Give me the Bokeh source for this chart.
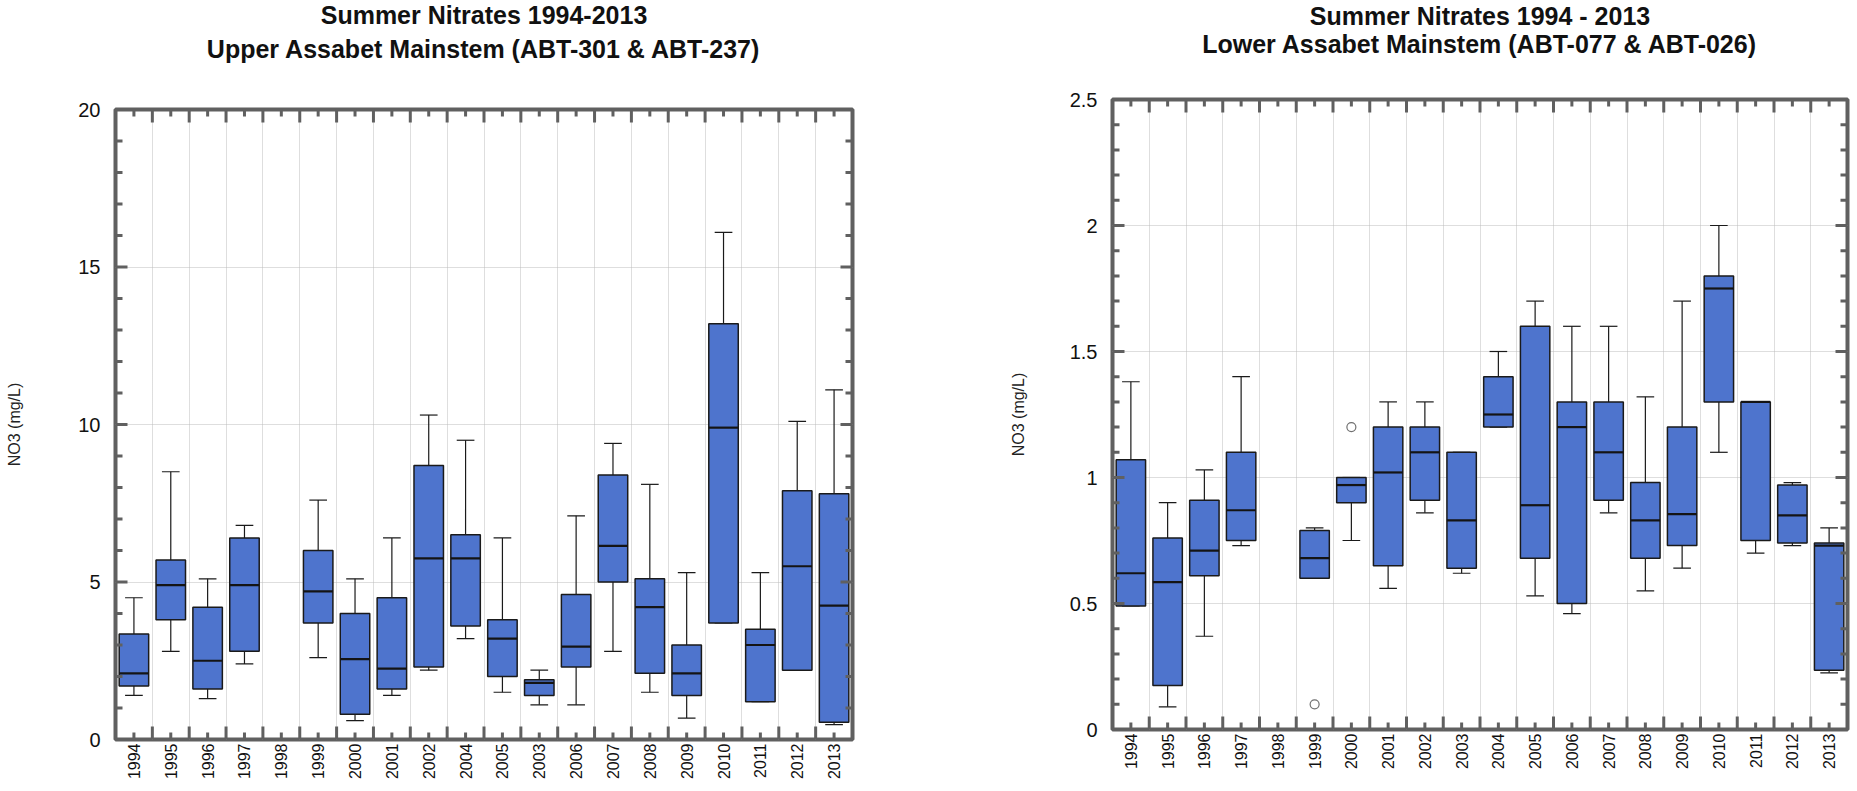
import math
import numpy as np
from bokeh.plotting import figure
from bokeh.layouts import row
from bokeh.models import (FixedTicker, Title, Range1d, LinearAxis,
                          CustomJSTickFormatter, NumeralTickFormatter, ColumnDataSource)
from bokeh.embed import file_html
from bokeh.resources import INLINE

# ---------------- data: Upper Assabet Mainstem ----------------
up_years = ["1994", "1995", "1996", "1997", "1998", "1999", "2000", "2001", "2002", "2004",
            "2005", "2003", "2006", "2007", "2008", "2009", "2010", "2011", "2012", "2013"]
up_high = [4.5, 8.5, 5.1, 6.8, None, 7.6, 5.1, 6.4, 10.3, 9.5, 6.4, 2.2, 7.1, 9.4, 8.1, 5.3, 16.1, 5.3, 10.1, 11.1]
up_q3 = [3.35, 5.7, 4.2, 6.4, None, 6.0, 4.0, 4.5, 8.7, 6.5, 3.8, 1.9, 4.6, 8.4, 5.1, 3.0, 13.2, 3.5, 7.9, 7.8]
up_med = [2.1, 4.9, 2.5, 4.9, None, 4.7, 2.55, 2.25, 5.75, 5.75, 3.2, 1.8, 2.95, 6.15, 4.2, 2.1, 9.9, 3.0, 5.5, 4.25]
up_q1 = [1.7, 3.8, 1.6, 2.8, None, 3.7, 0.8, 1.6, 2.3, 3.6, 2.0, 1.4, 2.3, 5.0, 2.1, 1.4, 3.7, 1.2, 2.2, 0.55]
up_low = [1.4, 2.8, 1.3, 2.4, None, 2.6, 0.6, 1.4, 2.2, 3.2, 1.5, 1.1, 1.1, 2.8, 1.5, 0.68, 3.7, 1.2, 2.2, 0.47]

# ---------------- data: Lower Assabet Mainstem ----------------
low_years = ["1994", "1995", "1996", "1997", "1998", "1999", "2000", "2001", "2002", "2003",
             "2004", "2005", "2006", "2007", "2008", "2009", "2010", "2011", "2012", "2013"]
low_high = [1.38, 0.90, 1.03, 1.40, None, 0.80, 1.00, 1.30, 1.30, 1.10, 1.50, 1.70, 1.60, 1.60, 1.32, 1.70, 2.00, 1.30, 0.98, 0.80]
low_q3 = [1.07, 0.76, 0.91, 1.10, None, 0.79, 1.00, 1.20, 1.20, 1.10, 1.40, 1.60, 1.30, 1.30, 0.98, 1.20, 1.80, 1.30, 0.97, 0.74]
low_med = [0.62, 0.585, 0.71, 0.87, None, 0.68, 0.97, 1.02, 1.10, 0.83, 1.25, 0.89, 1.20, 1.10, 0.83, 0.855, 1.75, 1.30, 0.85, 0.73]
low_q1 = [0.49, 0.175, 0.61, 0.75, None, 0.60, 0.90, 0.65, 0.91, 0.64, 1.20, 0.68, 0.50, 0.91, 0.68, 0.73, 1.30, 0.75, 0.74, 0.235]
low_low = [0.49, 0.09, 0.37, 0.73, None, 0.60, 0.75, 0.56, 0.86, 0.62, 1.20, 0.53, 0.46, 0.86, 0.55, 0.64, 1.10, 0.70, 0.73, 0.225]
low_out_years = ["1999", "2000"]
low_out_vals = [0.10, 1.20]

BOX_FILL = "#4e74cd"
FRAME = "#606060"
FONT = "Liberation Sans"


def make_chart(years, lo, q1, med, q3, hi, ymax, major, minor, titles, title_gap, title_standoffs,
               width, height, bl, br, bt, bb, ylab_standoff, xlab_standoff,
               out_years=None, out_vals=None, margin=None):
    n = len(years)
    kw = {}
    if margin is not None:
        kw["margin"] = margin
    p = figure(width=width, height=height, title=None,
               x_range=Range1d(0, n), y_range=Range1d(0, ymax),
               output_backend="svg", toolbar_location=None,
               min_border_left=bl, min_border_right=br,
               min_border_top=bt, min_border_bottom=bb, **kw)
    p.background_fill_color = "white"
    p.border_fill_color = "white"
    p.outline_line_color = FRAME
    p.outline_line_width = 4
    p.outline_line_alpha = 1.0

    centers = [i + 0.5 for i in range(n)]
    bounds = list(range(n + 1))
    yticks = [float(v) for v in np.round(np.arange(0, ymax + 1e-9, major), 3)]
    yminor = [float(v) for v in np.round(np.arange(0, ymax + 1e-9, minor), 3)]

    # grids
    p.xgrid.ticker = FixedTicker(ticks=bounds)
    p.ygrid.ticker = FixedTicker(ticks=yticks)
    for g in (p.xgrid, p.ygrid):
        g.grid_line_color = "#bdbdbd"
        g.grid_line_dash = "1 1"
        g.grid_line_width = 1

    idx = [i for i in range(n) if q1[i] is not None]
    xs = [i + 0.5 for i in idx]
    src = ColumnDataSource(dict(
        x=xs,
        xl=[x - 0.4 for x in xs], xr=[x + 0.4 for x in xs],
        cl=[x - 0.24 for x in xs], cr=[x + 0.24 for x in xs],
        lo=[lo[i] for i in idx], q1=[q1[i] for i in idx], med=[med[i] for i in idx],
        q3=[q3[i] for i in idx], hi=[hi[i] for i in idx]))

    # whiskers
    wk = dict(source=src, line_color="#1a1a1a", line_width=1.2)
    p.segment(x0="x", y0="q3", x1="x", y1="hi", **wk)
    p.segment(x0="x", y0="q1", x1="x", y1="lo", **wk)
    p.segment(x0="cl", y0="hi", x1="cr", y1="hi", **wk)
    p.segment(x0="cl", y0="lo", x1="cr", y1="lo", **wk)
    # boxes
    p.vbar(x="x", top="q3", bottom="q1", width=0.8, source=src,
           fill_color=BOX_FILL, line_color="#1a1a1a", line_width=1.5)
    p.segment(x0="xl", y0="med", x1="xr", y1="med", source=src, line_color="#141414", line_width=2.2)

    if out_years:
        ox = [years.index(y) + 0.5 for y in out_years]
        p.scatter(ox, out_vals, marker="circle", size=9, fill_color=None,
                  line_color="#707070", line_width=1.2)

    # inward tick marks on all four sides of the frame (clipped to the frame)
    x0, x1 = p.x_range.start, p.x_range.end
    y0, y1 = p.y_range.start, p.y_range.end
    tk = dict(marker="dash", line_color=FRAME, line_width=3)
    yminor_only = [v for v in yminor if v not in yticks]
    for xe in (x0, x1):
        p.scatter([xe] * len(yminor_only), yminor_only, size=14, **tk)
        p.scatter([xe] * len(yticks), yticks, size=24, **tk)
    for ye in (y0, y1):
        p.scatter(centers, [ye] * len(centers), size=14, angle=math.pi / 2, **tk)
        p.scatter(bounds, [ye] * len(bounds), size=26, angle=math.pi / 2, **tk)

    xa = p.xaxis[0]
    xa.ticker = FixedTicker(ticks=centers)
    xa.formatter = CustomJSTickFormatter(args=dict(labels=years),
                                         code="return labels[Math.floor(tick)] || '';")
    ya = p.yaxis[0]
    ya.ticker = FixedTicker(ticks=yticks)
    ya.formatter = NumeralTickFormatter(format="0.[0]")
    for ax in (xa, ya):
        ax.axis_line_color = None
        ax.major_tick_line_color = None
        ax.minor_tick_line_color = None
        ax.major_tick_in = 0
        ax.major_tick_out = 0
        ax.minor_tick_in = 0
        ax.minor_tick_out = 0
        ax.major_label_text_font = FONT
        ax.major_label_text_color = "#111111"

    xa.major_label_orientation = math.pi / 2
    xa.major_label_text_font_size = "16px"
    xa.major_label_standoff = xlab_standoff

    ya.major_label_text_font_size = "20px"
    ya.major_label_standoff = 15
    ya.axis_label = "NO3 (mg/L)"
    ya.axis_label_text_font = FONT
    ya.axis_label_text_font_size = "16px"
    ya.axis_label_text_font_style = "normal"
    ya.axis_label_text_color = "#222222"
    ya.axis_label_standoff = ylab_standoff

    # invisible spacer between the plot area and the title lines
    spacer = LinearAxis(ticker=FixedTicker(ticks=[n / 2]),
                        formatter=CustomJSTickFormatter(code="return '';"),
                        axis_line_color=None, major_tick_line_color=None, minor_tick_line_color=None,
                        major_tick_in=0, major_tick_out=title_gap, minor_tick_in=0, minor_tick_out=0,
                        major_label_standoff=0, major_label_text_font_size="0px")
    p.add_layout(spacer, "above")

    # two centred title lines: the second line sits nearer the plot, so it is added first
    tkw = dict(align="center", vertical_align="top", text_font=FONT, text_font_size="25px",
               text_font_style="bold", text_color="#111111")
    p.add_layout(Title(text=titles[1], standoff=title_standoffs[1], **tkw), "above")
    p.add_layout(Title(text=titles[0], standoff=title_standoffs[0], **tkw), "above")
    return p


left = make_chart(up_years, up_low, up_q1, up_med, up_q3, up_high, 20, 5, 1,
                  ("Summer Nitrates 1994-2013", "Upper Assabet Mainstem (ABT-301 & ABT-237)"),
                  41, (0, 8),
                  width=862, height=791, bl=115, br=10, bt=107, bb=52,
                  ylab_standoff=52, xlab_standoff=4)
right = make_chart(low_years, low_low, low_q1, low_med, low_q3, low_high, 2.5, 0.5, 0.1,
                   ("Summer Nitrates 1994 - 2013", "Lower Assabet Mainstem (ABT-077 & ABT-026)"),
                   42, (0, -4),
                   width=995, height=791, bl=250, br=10, bt=107, bb=52,
                   ylab_standoff=40, xlab_standoff=4,
                   out_years=low_out_years, out_vals=low_out_vals, margin=(-10, 0, 0, 0))

layout = row(left, right)
open("out.html", "w").write(file_html(layout, INLINE))
